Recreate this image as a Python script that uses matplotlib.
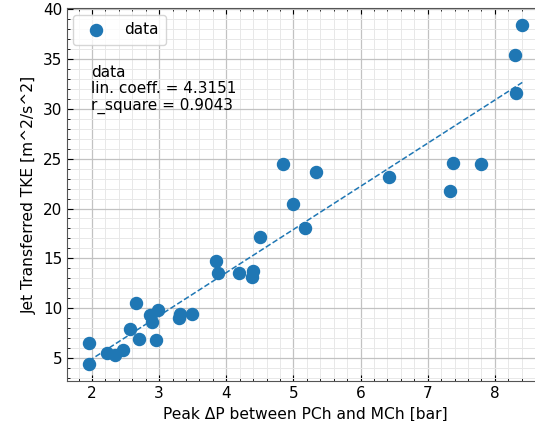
import numpy as np
import matplotlib
matplotlib.use("Agg")
import matplotlib.pyplot as plt
from matplotlib.ticker import MultipleLocator

# Data
peak_dp = [1.95, 1.96, 2.22, 2.34, 2.46, 2.56, 2.66, 2.70, 2.86, 2.89, 2.95, 2.99,
           3.29, 3.31, 3.49, 3.85, 3.88, 4.19, 4.38, 4.40, 4.50, 4.84, 4.99, 5.17,
           5.33, 6.43, 7.33, 7.38, 7.79, 8.30, 8.32, 8.41]
tke = [6.56, 4.43, 5.50, 5.33, 5.83, 7.93, 10.5, 6.96, 9.30, 8.60, 6.80, 9.80,
       9.03, 9.46, 9.46, 14.73, 13.53, 13.53, 13.13, 13.70, 17.13, 24.43, 20.5, 18.06,
       23.66, 23.16, 21.76, 24.6, 24.43, 35.33, 31.56, 38.33]
lin_coeff = 4.3151
r_square = 0.9043

x = np.array(peak_dp)
y = np.array(tke)
xf = np.array([x.min(), x.max()])
yf = lin_coeff * xf + (np.mean(y) - lin_coeff * np.mean(x))

fig = plt.figure(figsize=(5.35, 4.21), dpi=100)
ax = fig.add_axes([0.1252, 0.095, 0.8916, 0.885])

ax.scatter(x, y, s=75, color='#1f77b4', label='data', zorder=3)
ax.plot(xf, yf, '--', color='#1f77b4', lw=1.1, zorder=2)

ax.set_xlim(1.627, 8.733)
ax.set_ylim(2.74, 40.02)
ax.xaxis.set_major_locator(MultipleLocator(1))
ax.xaxis.set_minor_locator(MultipleLocator(0.2))
ax.yaxis.set_major_locator(MultipleLocator(5))
ax.yaxis.set_minor_locator(MultipleLocator(1))
ax.tick_params(which='both', direction='in', top=True, right=True, labelsize=11)
ax.tick_params(which='major', length=4)
ax.tick_params(which='minor', length=2)
ax.set_axisbelow(True)
ax.grid(which='major', color='#c2c2c2', lw=0.9)
ax.grid(which='minor', color='#e8e8e8', lw=0.7)
for s in ax.spines.values():
    s.set_color('#555555')

ax.set_xlabel('Peak ΔP between PCh and MCh [bar]', fontsize=11.2)
ax.set_ylabel('Jet Transferred TKE [m^2/s^2]', fontsize=11.2)

ax.legend(loc='upper left', fontsize=11, borderpad=0.5, handletextpad=0.85,
          borderaxespad=0.4)
ax.text(0.05, 0.848, 'data\nlin. coeff. = %.4f\nr_square = %.4f' % (lin_coeff, r_square),
        transform=ax.transAxes, fontsize=11, va='top', ha='left', linespacing=1.1)

fig.savefig('out.png', dpi=100)
